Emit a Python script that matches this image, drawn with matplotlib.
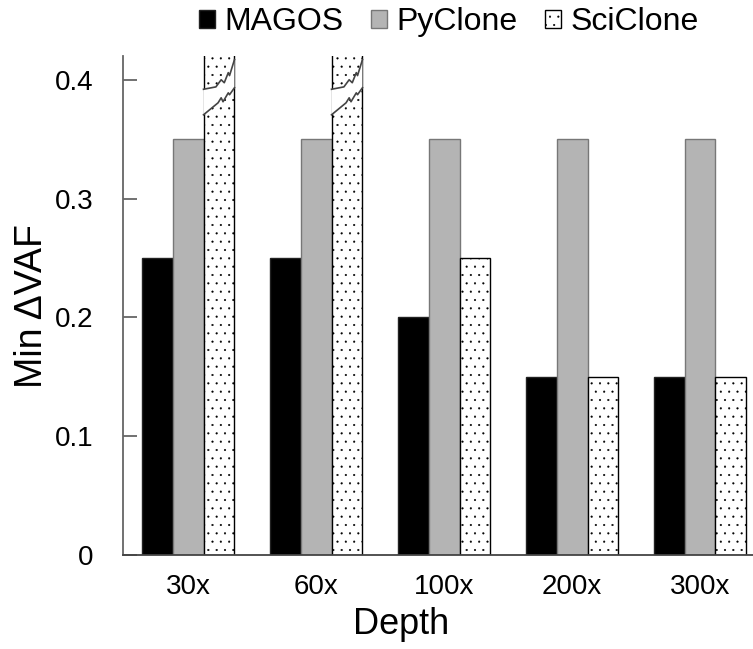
import matplotlib
matplotlib.use("Agg")
import matplotlib.pyplot as plt
import numpy as np

plt.rcParams['font.family'] = ['Liberation Sans', 'DejaVu Sans']
plt.rcParams['hatch.linewidth'] = 0.3

depths = ['30x', '60x', '100x', '200x', '300x']
magos = [0.25, 0.25, 0.20, 0.15, 0.15]
pyclone = [0.35, 0.35, 0.35, 0.35, 0.35]
# SciClone runs off the top of the axis at low depth (broken bars)
sciclone = [0.50, 0.50, 0.25, 0.15, 0.15]
y_max = 0.42

fig = plt.figure(figsize=(7.53, 6.49), dpi=100)
ax = fig.add_axes([123 / 753, 94 / 649, 630 / 753, 499 / 649])

x = np.arange(len(depths))
w = 0.242

ax.bar(x - w, magos, w, color='black', edgecolor='#222222', linewidth=1.0, label='MAGOS')
ax.bar(x, pyclone, w, color='#b4b4b4', edgecolor='#777777', linewidth=1.0, label='PyClone')
sc = ax.bar(x + w, sciclone, w, color='white', edgecolor='black', hatch='..',
            linewidth=1.0, label='SciClone')

# zigzag break marks on bars taller than the axis
upper = [(0, 0.392), (0.4, 0.394), (0.57, 0.400), (0.67, 0.3975),
         (0.8, 0.406), (0.84, 0.4035), (1, 0.417)]
lower = [(0, 0.3705), (0.47, 0.3806), (0.57, 0.3848), (0.63, 0.3815),
         (0.8, 0.389), (0.84, 0.3874), (1, 0.3933)]
for rect, val in zip(sc.patches, sciclone):
    if val <= y_max:
        continue
    x0 = rect.get_x()
    bw = rect.get_width()
    ux = [x0 + u * bw for u, _ in upper]
    uy = [v for _, v in upper]
    lx = [x0 + u * bw for u, _ in lower]
    ly = [v for _, v in lower]
    ax.fill(ux + lx[::-1], uy + ly[::-1], color='white', zorder=3, linewidth=0)
    ax.plot(ux, uy, color='#444444', lw=1.2, zorder=4)
    ax.plot(lx, ly, color='#444444', lw=1.2, zorder=4)

ax.set_xlim(-0.508, 4.414)
ax.set_ylim(0, y_max)
ax.set_yticks([0, 0.1, 0.2, 0.3, 0.4])
ax.set_yticklabels(['0', '0.1', '0.2', '0.3', '0.4'])
ax.set_xticks(x)
ax.set_xticklabels(depths)

ax.spines['top'].set_visible(False)
ax.spines['right'].set_visible(False)
ax.spines['left'].set_color('#666666')
ax.spines['left'].set_linewidth(1.3)
ax.spines['bottom'].set_color('#444444')
ax.spines['bottom'].set_linewidth(1.3)

ax.tick_params(axis='y', direction='in', length=10, width=1.3, color='#666666',
               labelsize=20, pad=21)
ax.tick_params(axis='x', length=0, labelsize=20, pad=14)

ax.set_ylabel('Min \u0394VAF', fontsize=27)
ax.yaxis.set_label_coords(-0.1165, 0.5)
ax.set_xlabel('Depth', fontsize=26)
ax.xaxis.set_label_coords(0.441, -0.105)

fig.legend(loc='center', bbox_to_anchor=(449 / 753, 1 - 22 / 649), ncol=3,
           frameon=False, fontsize=23, handlelength=0.5, handleheight=0.5,
           handletextpad=0.3, columnspacing=0.85, borderpad=0)

fig.savefig('out.png', dpi=100)
